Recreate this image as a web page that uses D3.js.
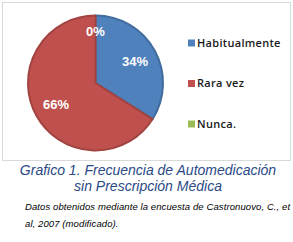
<!DOCTYPE html>
<html lang="es">
<head>
<meta charset="UTF-8">
<title>Frecuencia de Automedicación</title>
<script src="https://d3js.org/d3.v7.min.js"></script>
<style>
  html, body { margin: 0; padding: 0; background: #fff; }
  svg { display: block; }
</style>
</head>
<body>
<div id="chart"></div>
<script>
const categories = ["Habitualmente", "Rara vez", "Nunca."];
const values = [34, 66, 0];
const colors = ["#4F81BD", "#C0504D", "#9BBB59"];
const titleLines = ["Grafico 1. Frecuencia de Automedicación", "sin Prescripción Médica"];
const noteLines = ["Datos obtenidos mediante la encuesta de Castronuovo, C., et", "al, 2007 (modificado)."];

const w = 293, h = 242;
const cx = 95.5, cy = 83, r = 67.5;

const svg = d3.select("#chart").append("svg")
    .attr("width", w)
    .attr("height", h);

// chart frame
svg.append("rect")
    .attr("x", 2.5).attr("y", 2.5)
    .attr("width", 288).attr("height", 158)
    .attr("fill", "#fff")
    .attr("stroke", "#d9d9d9");

const pie = d3.pie().sort(null).value(d => d);
const arcs = pie(values);
const arc = d3.arc().innerRadius(0).outerRadius(r);

const g = svg.append("g").attr("transform", `translate(${cx},${cy})`);

// zero slices have nothing to draw
g.selectAll("path.slice")
    .data(arcs.filter(d => d.value > 0))
    .enter()
    .append("path")
    .attr("class", "slice")
    .attr("d", arc)
    .attr("fill", d => colors[d.index])
    .attr("stroke", d => d3.color(colors[d.index]).darker(0.5))
    .attr("stroke-width", 2)
    .attr("stroke-linejoin", "round");

// labels
g.selectAll("text.pct")
    .data(arcs)
    .enter()
    .append("text")
    .attr("class", "pct")
    .attr("transform", d => {
        const lr = d.value === 0 ? 52 : 45;
        const c = d3.arc().innerRadius(lr).outerRadius(lr).centroid(d);
        return `translate(${c[0]},${c[1]})`;
    })
    .attr("text-anchor", "middle")
    .attr("dy", "0.36em")
    .style("font-family", "'Liberation Sans', Arial, sans-serif")
    .style("font-weight", "bold")
    .style("font-size", "13px")
    .attr("fill", "#fff")
    .text(d => d.value + "%");

// legend
const legendY = d3.scalePoint().domain(categories).range([43, 124]);
const legend = svg.append("g");
legend.selectAll("rect")
    .data(categories)
    .enter()
    .append("rect")
    .attr("x", 188)
    .attr("y", d => legendY(d) - 3.5)
    .attr("width", 7)
    .attr("height", 7)
    .attr("fill", (d, i) => colors[i]);
legend.selectAll("text")
    .data(categories)
    .enter()
    .append("text")
    .attr("x", 197)
    .attr("y", d => legendY(d))
    .attr("dy", "0.36em")
    .style("font-family", "'Open Sans', sans-serif")
    .style("font-size", "11px")
    .style("font-weight", "600")
    .style("letter-spacing", "0.3px")
    .attr("fill", "#1a1a1a")
    .text(d => d);

// title
svg.selectAll("text.title")
    .data(titleLines)
    .enter()
    .append("text")
    .attr("class", "title")
    .attr("x", 148)
    .attr("y", (d, i) => 175 + i * 15.5)
    .attr("text-anchor", "middle")
    .style("font-family", "'Liberation Sans', Arial, sans-serif")
    .style("font-style", "italic")
    .style("font-size", "14px")
    .attr("fill", "#2a4a86")
    .text(d => d);

// source note
svg.selectAll("text.note")
    .data(noteLines)
    .enter()
    .append("text")
    .attr("class", "note")
    .attr("x", 25)
    .attr("y", (d, i) => 210 + i * 16.5)
    .style("font-family", "'Liberation Sans', Arial, sans-serif")
    .style("font-style", "italic")
    .style("font-size", "9.5px")
    .style("letter-spacing", "0.1px")
    .attr("fill", "#000")
    .text(d => d);
</script>
</body>
</html>
